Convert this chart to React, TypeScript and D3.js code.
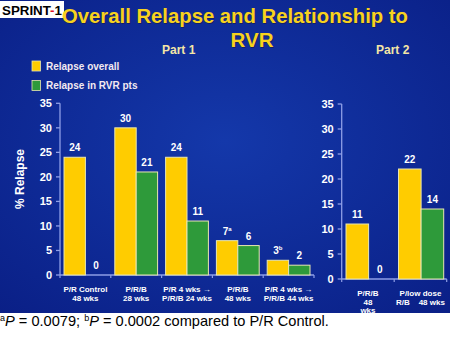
import React from "react";
import * as d3 from "d3";

const part1Categories = [["P/R Control", "48 wks"], ["P/R/B", "28 wks"], ["P/R 4 wks \u2192", "P/R/B 24 wks"], ["P/R/B", "48 wks"], ["P/R 4 wks \u2192", "P/R/B 44 wks"]];
const part1Overall = [24, 30, 24, 7, 3];
const part1Rvr = [0, 21, 11, 6, 2];
const part1OverallMarks = ["", "", "", "a", "b"];
const part2Categories = [["P/R/B", "48", "wks"], ["P/low dose", "R/B    48 wks"]];
const part2Overall = [11, 22];
const part2Rvr = [0, 14];
const part2OverallMarks = ["", ""];
const yTicks = [0, 5, 10, 15, 20, 25, 30, 35];
const seriesNames = ["Relapse overall", "Relapse in RVR pts"];

const YELLOW = "#FFCC00";
const GREEN = "#2E9A3A";
const AXIS = "#8E9EE6";
const FONT = "Liberation Sans, Arial, sans-serif";

type PanelProps = {
  cats: string[][];
  overall: number[];
  rvr: number[];
  marks: string[];
  x0: number;
  x1: number;
  yBottom: number;
  yTop: number;
  innerLeft: number;
  innerRight: number;
};

function Panel({ cats, overall, rvr, marks, x0, x1, yBottom, yTop, innerLeft, innerRight }: PanelProps) {
  const y = d3.scaleLinear().domain([0, 35]).range([yBottom, yTop]);
  const xb = d3.scaleBand<number>().domain(d3.range(cats.length)).range([x0, x1]).padding(0);
  const step = xb.bandwidth();
  const xi = d3.scaleBand<number>().domain([0, 1]).range([innerLeft, step - innerRight]).padding(0);
  const bw = xi.bandwidth();
  const series = [overall, rvr];
  const colors = [YELLOW, GREEN];
  return (
    <g>
      <line x1={x0} x2={x0} y1={yBottom} y2={yTop} stroke={AXIS} strokeWidth={1.3} />
      {yTicks.map((t) => (
        <g key={t}>
          <line x1={x0 - 4} x2={x0} y1={y(t)} y2={y(t)} stroke={AXIS} strokeWidth={1.3} />
          <text x={x0 - 8} y={y(t)} dy="0.36em" textAnchor="end" fill="#fff" fontSize={11} fontWeight="bold" fontFamily={FONT}>{t}</text>
        </g>
      ))}
      <line x1={x0} x2={x1} y1={yBottom} y2={yBottom} stroke={AXIS} strokeWidth={1.3} />
      {d3.range(cats.length + 1).map((i) => (
        <line key={i} x1={x0 + i * step} x2={x0 + i * step} y1={yBottom} y2={yBottom + 3} stroke={AXIS} strokeWidth={1.2} />
      ))}
      {cats.map((c, i) => (
        <g key={i}>
          {series.map((s, k) => {
            const v = s[i];
            const bx = (xb(i) as number) + (xi(k) as number);
            const by = y(v);
            return (
              <g key={k}>
                {v > 0 && (
                  <rect x={bx} y={by} width={bw} height={yBottom - by} fill={colors[k]} stroke="#E8E6B0" strokeWidth={1} />
                )}
                <text x={bx + bw / 2} y={by - 6} textAnchor="middle" fill="#fff" fontSize={10} fontWeight="bold" fontFamily={FONT}>
                  {String(v)}
                  {k === 0 && marks[i] ? <tspan fontSize={6} dy={-4}>{marks[i]}</tspan> : null}
                </text>
              </g>
            );
          })}
          {c.map((line, j) => (
            <text key={j} x={(xb(i) as number) + step / 2} y={yBottom + 17 + j * 8.5} textAnchor="middle" fill="#fff" fontSize={8} fontWeight="bold" fontFamily={FONT} style={{ whiteSpace: "pre" }}>{line}</text>
          ))}
        </g>
      ))}
    </g>
  );
}

export default function App() {
  return (
    <svg width={450} height={339} style={{ position: "absolute", left: 0, top: 0 }} xmlns="http://www.w3.org/2000/svg">
      <defs>
        <radialGradient id="bg" cx="0.5" cy="0.45" r="0.75">
          <stop offset="0" stopColor="#1438AA" />
          <stop offset="1" stopColor="#0A1F86" />
        </radialGradient>
      </defs>
      <rect x={0} y={0} width={450} height={339} fill="#fff" />
      <rect x={0} y={0} width={450} height={313} fill="url(#bg)" />
      <rect x={0} y={1} width={64} height={17} fill="#fff" />
      <text x={2} y={14.5} fontSize={13} fontWeight="bold" fontFamily={FONT} fill="#000" textLength={60} lengthAdjust="spacingAndGlyphs">
        SPRINT<tspan fill="#E0102A">-</tspan>1
      </text>
      <text x={63} y={24} fontSize={20.5} fontWeight="bold" fontFamily={FONT} fill="#1a1a40" textLength={346} lengthAdjust="spacingAndGlyphs" opacity={0.6}>Overall Relapse and Relationship to</text>
      <text x={62} y={23} fontSize={20.5} fontWeight="bold" fontFamily={FONT} fill="#F7D21E" textLength={346} lengthAdjust="spacingAndGlyphs">Overall Relapse and Relationship to</text>
      <text x={253} y={48} textAnchor="middle" fontSize={20.5} fontWeight="bold" fontFamily={FONT} fill="#1a1a40" opacity={0.6}>RVR</text>
      <text x={252} y={47} textAnchor="middle" fontSize={20.5} fontWeight="bold" fontFamily={FONT} fill="#F7D21E">RVR</text>
      <text x={162} y={54} fontSize={12} fontWeight="bold" fontFamily={FONT} fill="#F4E6A6">Part 1</text>
      <text x={376} y={54} fontSize={12} fontWeight="bold" fontFamily={FONT} fill="#F4E6A6">Part 2</text>
      {seriesNames.map((n, i) => (
        <g key={n}>
          <rect x={32} y={61 + i * 19.5} width={8.5} height={10} fill={i === 0 ? YELLOW : GREEN} stroke="#E8E6B0" strokeWidth={0.8} />
          <text x={46} y={66 + i * 19.5} dy="0.36em" fontSize={10} fontWeight="bold" fontFamily={FONT} fill="#F3E9F0">{n}</text>
        </g>
      ))}
      <text transform="translate(24,179) rotate(-90)" textAnchor="middle" fontSize={12} fontWeight="bold" fontFamily={FONT} fill="#fff">% Relapse</text>
      <Panel cats={part1Categories} overall={part1Overall} rvr={part1Rvr} marks={part1OverallMarks} x0={60} x1={314} yBottom={275} yTop={103.3} innerLeft={4} innerRight={4} />
      <Panel cats={part2Categories} overall={part2Overall} rvr={part2Rvr} marks={part2OverallMarks} x0={341.7} x1={446.7} yBottom={279} yTop={104} innerLeft={4.3} innerRight={3} />
      <text x={0} y={326} fontSize={14.6} fontFamily={FONT} fill="#000">
        <tspan fontSize={9} dy={-5}>a</tspan><tspan fontStyle="italic" dy={5}>P</tspan> = 0.0079; <tspan fontSize={9} dy={-5}>b</tspan><tspan fontStyle="italic" dy={5}>P</tspan> = 0.0002 compared to P/R Control.
      </text>
    </svg>
  );
}
